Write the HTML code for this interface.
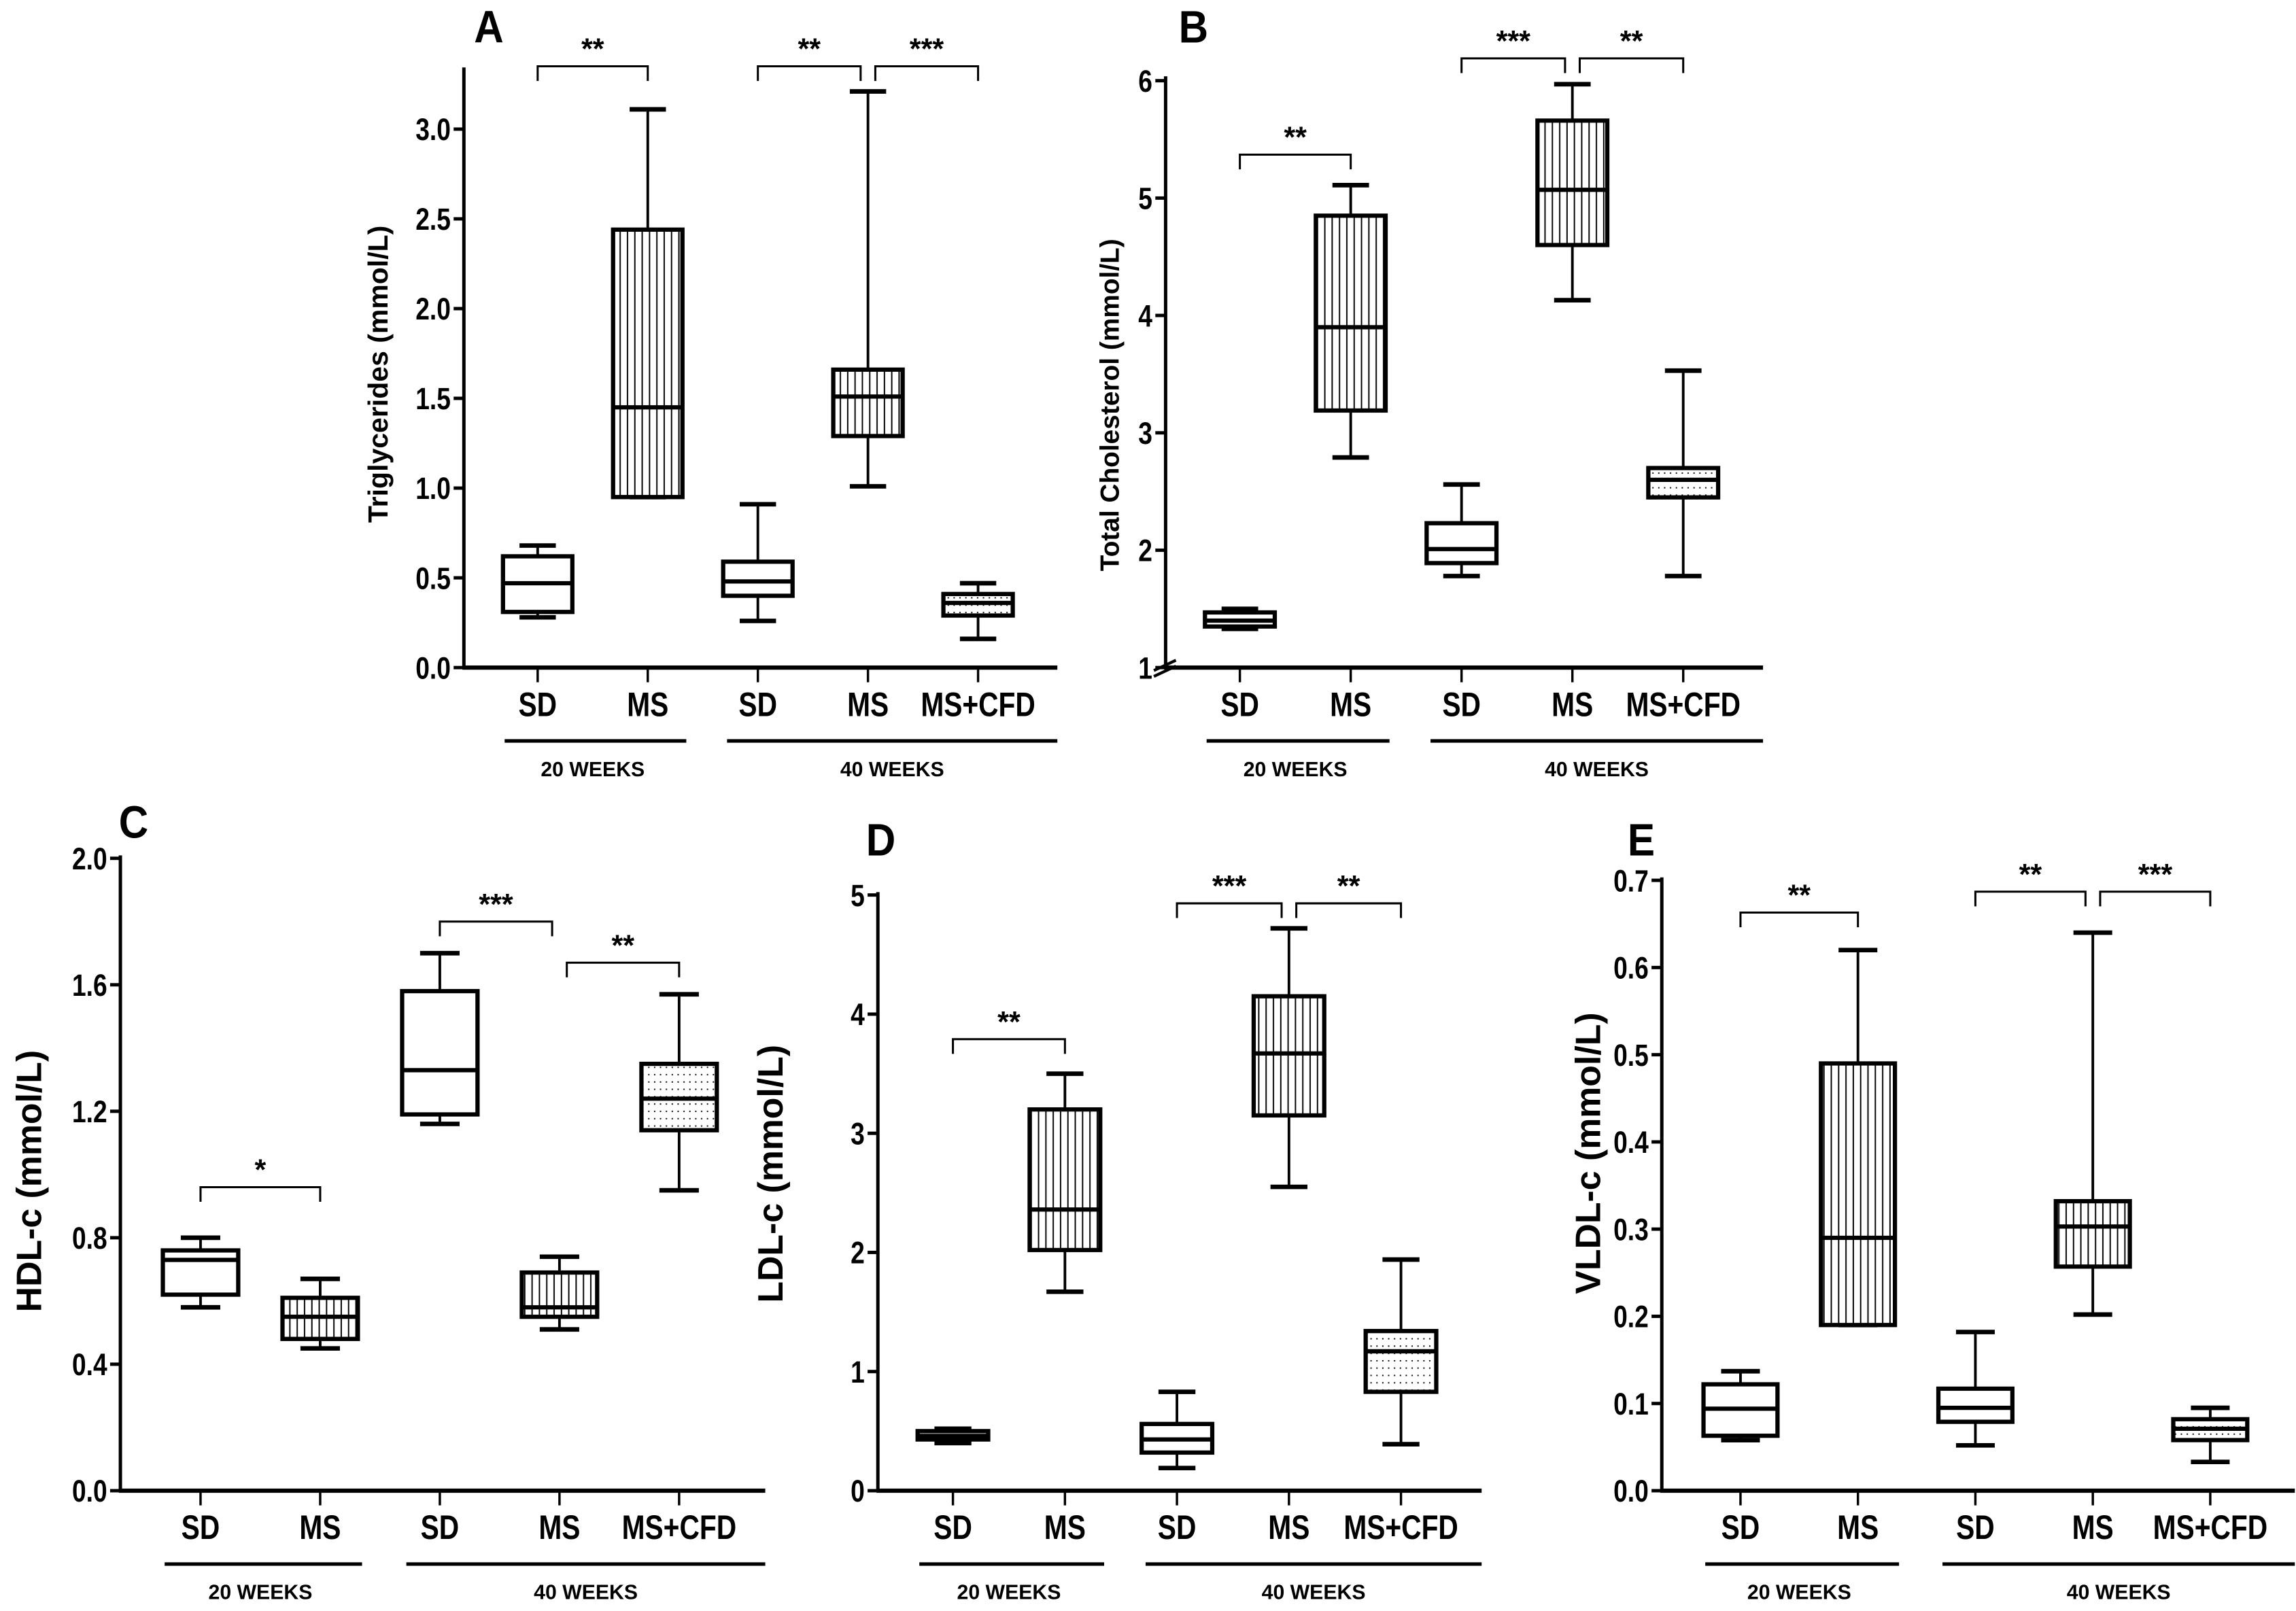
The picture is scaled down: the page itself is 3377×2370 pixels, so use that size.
<!DOCTYPE html>
<html><head><meta charset="utf-8">
<style>
html,body{margin:0;padding:0;background:#fff;}
svg{display:block;}
text{font-family:"Liberation Sans",sans-serif;font-weight:bold;fill:#000;}
</style></head>
<body>
<svg id="fig" width="3377" height="2370" viewBox="0 0 1564 1098" preserveAspectRatio="none" xmlns="http://www.w3.org/2000/svg">
<defs>
<pattern id="vlines" width="5" height="10" patternUnits="userSpaceOnUse"><rect width="5" height="10" fill="#fff"/><rect x="2" y="0" width="0.9" height="10" fill="#000"/></pattern>
<pattern id="dots" width="4" height="5" patternUnits="userSpaceOnUse"><rect width="4" height="5" fill="#fff"/><rect x="1.5" y="2" width="0.9" height="0.9" fill="#000"/></pattern>
</defs>
</svg>
<script>
const categories = ["SD","MS","SD","MS","MS+CFD"];
const fills = ["none","vlines","none","vlines","dots"];
// Panel A: Triglycerides
const minA=[0.28,0.95,0.26,1.01,0.16], q1A=[0.31,0.95,0.40,1.29,0.29], medA=[0.47,1.45,0.48,1.51,0.36], q3A=[0.62,2.44,0.59,1.66,0.41], maxA=[0.68,3.11,0.91,3.21,0.47];
const ticksA=[0,0.5,1.0,1.5,2.0,2.5,3.0], tickLabelsA=["0.0","0.5","1.0","1.5","2.0","2.5","3.0"];
const sigA=[[0,1,"**",3.35],[2,3,"**",3.35],[3,4,"***",3.35]];
// Panel B: Total Cholesterol
const minB=[1.33,2.79,1.78,4.13,1.78], q1B=[1.35,3.19,1.89,4.60,2.45], medB=[1.40,3.90,2.01,5.07,2.60], q3B=[1.47,4.85,2.23,5.66,2.70], maxB=[1.50,5.11,2.56,5.97,3.53];
const ticksB=[1,2,3,4,5,6], tickLabelsB=["1","2","3","4","5","6"];
const sigB=[[0,1,"**",5.37],[2,3,"***",6.19],[3,4,"**",6.19]];
// Panel C: HDL-c
const minC=[0.58,0.45,1.16,0.51,0.95], q1C=[0.62,0.48,1.19,0.55,1.14], medC=[0.73,0.55,1.33,0.58,1.24], q3C=[0.76,0.61,1.58,0.69,1.35], maxC=[0.80,0.67,1.70,0.74,1.57];
const ticksC=[0,0.4,0.8,1.2,1.6,2.0], tickLabelsC=["0.0","0.4","0.8","1.2","1.6","2.0"];
const sigC=[[0,1,"*",0.96],[2,3,"***",1.80],[3,4,"**",1.67]];
// Panel D: LDL-c
const minD=[0.40,1.67,0.19,2.55,0.39], q1D=[0.43,2.02,0.32,3.15,0.83], medD=[0.46,2.36,0.43,3.67,1.17], q3D=[0.50,3.20,0.56,4.15,1.34], maxD=[0.52,3.50,0.83,4.72,1.94];
const ticksD=[0,1,2,3,4,5], tickLabelsD=["0","1","2","3","4","5"];
const sigD=[[0,1,"**",3.79],[2,3,"***",4.93],[3,4,"**",4.93]];
// Panel E: VLDL-c
const minE=[0.058,0.19,0.052,0.202,0.033], q1E=[0.063,0.19,0.079,0.257,0.058], medE=[0.094,0.29,0.095,0.303,0.071], q3E=[0.122,0.49,0.117,0.332,0.082], maxE=[0.137,0.62,0.182,0.64,0.095];
const ticksE=[0,0.1,0.2,0.3,0.4,0.5,0.6,0.7], tickLabelsE=["0.0","0.1","0.2","0.3","0.4","0.5","0.6","0.7"];
const sigE=[[0,1,"**",0.663],[2,3,"**",0.687],[3,4,"***",0.687]];

const NS="http://www.w3.org/2000/svg";
const svg=document.getElementById('fig');
function mk(tag,attrs,parent,txt){const e=document.createElementNS(NS,tag);for(const k in attrs)e.setAttribute(k,attrs[k]);if(txt!==undefined)e.textContent=txt;(parent||svg).appendChild(e);return e;}
function ntext(x,y,anchor,size,parent,txt,sx){return mk('text',{x:0,y:0,'text-anchor':anchor,'font-size':size,transform:`translate(${x},${y}) scale(${sx||0.82},1)`},parent,txt);}

function panel(p){
  const g=mk('g',{});
  
  
  const y=v=>p.y0+(v-p.v0)*(p.y1-p.y0)/(p.v1-p.v0);
  const x=i=>p.ax+(0.67+i)*p.step;
  const xEnd=x(4)+0.72*p.step;
  const sw=2.3;
  const ya=mk('line',{x1:p.ax,y1:p.yTop,x2:p.ax,y2:p.y0+1,stroke:'#000','stroke-width':sw},g);
  
  
  const xa=mk('line',{x1:p.ax-1,y1:p.y0,x2:xEnd,y2:p.y0,stroke:'#000','stroke-width':sw+0.6},g);
  
  
  p.ticks.forEach((t,k)=>{
    mk('line',{x1:p.ax-7,y1:y(t),x2:p.ax,y2:y(t),stroke:'#000','stroke-width':sw},g);
    const tl=ntext(p.ax-9,y(t)+7.5,'end',21,g,p.tickLabels[k]);
    
    
  });
  if(p.broken){
    mk('line',{x1:p.ax-8,y1:p.y0+2,x2:p.ax+7,y2:p.y0-5,stroke:'#000','stroke-width':2},g);
    mk('line',{x1:p.ax-8,y1:p.y0+6,x2:p.ax+7,y2:p.y0-1,stroke:'#000','stroke-width':2},g);
  }
  const yt=mk('text',{x:0,y:0,'text-anchor':'middle','font-size':p.titleSize,transform:`translate(${p.titleX},${p.titleY}) rotate(-90)`},g,p.title);
  
  
  const pl=ntext(p.letterX,p.letterY,'middle',31,g,p.letter,0.9);
  
  
  const bw=0.63*p.step, cw=0.33*p.step;
  categories.forEach((c,i)=>{
    const cx=x(i);
    mk('line',{x1:cx,y1:p.y0,x2:cx,y2:p.y0+10,stroke:'#000','stroke-width':1.6},g);
    const cl=ntext(cx,p.y0+33,'middle',23,g,c);
    
    
    const bg=mk('g',{},g);
    
    
    const mn=p.min[i],q1=p.q1[i],md=p.med[i],q3=p.q3[i],mx=p.max[i];
    mk('line',{x1:cx,y1:y(mx),x2:cx,y2:y(q3),stroke:'#000','stroke-width':1.8},bg);
    mk('line',{x1:cx,y1:y(q1),x2:cx,y2:y(mn),stroke:'#000','stroke-width':1.8},bg);
    mk('line',{x1:cx-cw/2,y1:y(mx),x2:cx+cw/2,y2:y(mx),stroke:'#000','stroke-width':sw+0.8},bg);
    mk('line',{x1:cx-cw/2,y1:y(mn),x2:cx+cw/2,y2:y(mn),stroke:'#000','stroke-width':sw+0.8},bg);
    const f=fills[i]==='none'?'#fff':'url(#'+fills[i]+')';
    mk('rect',{x:cx-bw/2,y:y(q3),width:bw,height:Math.max(1,y(q1)-y(q3)),fill:f,stroke:'#000','stroke-width':sw+0.6},bg);
    mk('line',{x1:cx-bw/2,y1:y(md),x2:cx+bw/2,y2:y(md),stroke:'#000','stroke-width':sw+0.6},bg);
  });
  const gy=p.y0+50;
  const g1=mk('line',{x1:x(0)-0.3*p.step,y1:gy,x2:x(1)+0.35*p.step,y2:gy,stroke:'#000','stroke-width':2.4},g);
  
  
  const t1=mk('text',{x:(x(0)+x(1))/2,y:gy+24,'text-anchor':'middle','font-size':14},g,'20 WEEKS');
  
  
  const g2=mk('line',{x1:x(2)-0.28*p.step,y1:gy,x2:xEnd,y2:gy,stroke:'#000','stroke-width':2.4},g);
  
  
  const t2=mk('text',{x:(x(2)-0.28*p.step+xEnd)/2,y:gy+24,'text-anchor':'middle','font-size':14},g,'40 WEEKS');
  
  
  p.sig.forEach(s=>{
    const [a,b,lab,v]=s;
    const xa1=x(a)+(a===3?5:0), xb=x(b)-(b===3?5:0);
    const by=y(v);
    const sg=mk('g',{},g);
    
    
    mk('polyline',{points:`${xa1},${by+10} ${xa1},${by} ${xb},${by} ${xb},${by+10}`,fill:'none',stroke:'#000','stroke-width':1.4},sg);
    mk('text',{x:(xa1+xb)/2,y:by-5,'text-anchor':'middle','font-size':20},sg,lab);
  });
}

panel({letter:'A',ax:316,step:75,y0:455,v0:0,y1:88,v1:3.0,yTop:46,min:minA,q1:q1A,med:medA,q3:q3A,max:maxA,ticks:ticksA,tickLabels:tickLabelsA,sig:sigA,title:'Triglycerides (mmol/L)',titleSize:19,titleX:264,titleY:255,letterX:333,letterY:29});
panel({letter:'B',ax:794,step:75.5,y0:455,v0:1,y1:55,v1:6,yTop:52,min:minB,q1:q1B,med:medB,q3:q3B,max:maxB,ticks:ticksB,tickLabels:tickLabelsB,sig:sigB,title:'Total Cholesterol (mmol/L)',titleSize:18,titleX:762,titleY:276,letterX:813,letterY:29,broken:true});
panel({letter:'C',ax:82,step:81.5,y0:1016,v0:0,y1:585,v1:2.0,yTop:583,min:minC,q1:q1C,med:medC,q3:q3C,max:maxC,ticks:ticksC,tickLabels:tickLabelsC,sig:sigC,title:'HDL-c (mmol/L)',titleSize:24,titleX:28,titleY:805,letterX:91,letterY:571});
panel({letter:'D',ax:598,step:76.3,y0:1016,v0:0,y1:610,v1:5,yTop:608,min:minD,q1:q1D,med:medD,q3:q3D,max:maxD,ticks:ticksD,tickLabels:tickLabelsD,sig:sigD,title:'LDL-c (mmol/L)',titleSize:24,titleX:533,titleY:800,letterX:600,letterY:583});
panel({letter:'E',ax:1132,step:80,y0:1016,v0:0,y1:600,v1:0.7,yTop:598,min:minE,q1:q1E,med:medE,q3:q3E,max:maxE,ticks:ticksE,tickLabels:tickLabelsE,sig:sigE,title:'VLDL-c (mmol/L)',titleSize:24,titleX:1090,titleY:786,letterX:1118,letterY:583});
</script>
</body></html>
